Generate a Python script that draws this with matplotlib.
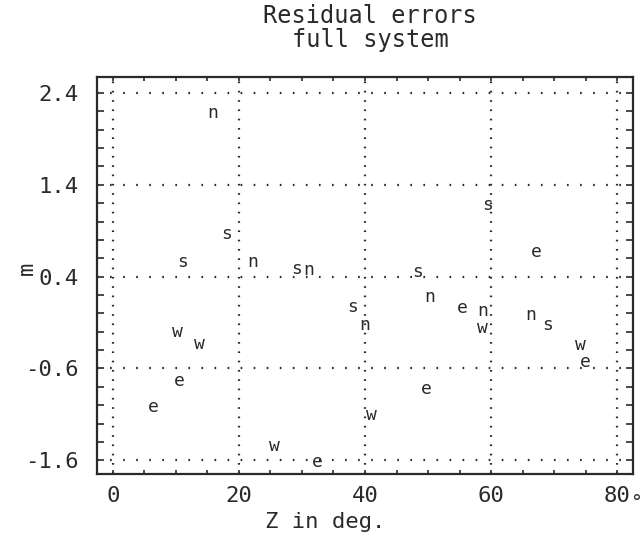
import matplotlib
matplotlib.use("Agg")
import matplotlib.pyplot as plt
from matplotlib.ticker import MultipleLocator, FixedLocator

plt.rcParams['lines.scale_dashes'] = False

# ---- data ----
n_x = [15.9, 22.2, 31.1, 40.0, 50.3, 58.6, 66.2]
n_y = [2.18, 0.56, 0.47, -0.13, 0.18, 0.03, -0.02]
s_x = [18.1, 11.0, 29.2, 38.1, 48.4, 59.5, 69.0]
s_y = [0.87, 0.56, 0.48, 0.07, 0.45, 1.18, -0.13]
e_x = [55.4, 67.1, 74.9, 10.6, 6.5, 32.4, 49.8]
e_y = [0.06, 0.67, -0.53, -0.74, -1.02, -1.62, -0.82]
w_x = [10.3, 13.8, 58.7, 74.1, 25.6, 41.1]
w_y = [-0.20, -0.33, -0.16, -0.35, -1.44, -1.11]

x_ticks = [0, 20, 40, 60, 80]
y_ticks = [-1.6, -0.6, 0.4, 1.4, 2.4]
x_ticklabels = ["0", "20", "40", "60", "80"]
y_ticklabels = ["-1.6", "-0.6", "0.4", "1.4", "2.4"]

title = "Residual errors\nfull system"
xlabel = "Z in deg."
ylabel = "m"

ink = "#2a2a2a"
mono = ["DejaVu Sans Mono"]

fig = plt.figure(figsize=(6.41, 5.41), dpi=100)
ax = fig.add_axes([97/641, 1-474/541, (633-97)/641, (474-77)/541])
ax.set_xlim(-2.5, 82.5)
ax.set_ylim(-1.75, 2.575)

for sp in ax.spines.values():
    sp.set_linewidth(1.6)
    sp.set_color(ink)

ax.xaxis.set_major_locator(FixedLocator(x_ticks))
ax.xaxis.set_minor_locator(MultipleLocator(5))
ax.yaxis.set_major_locator(FixedLocator(y_ticks))
ax.yaxis.set_minor_locator(MultipleLocator(0.2))
ax.set_xticklabels(x_ticklabels, fontfamily=mono, fontsize=16, color=ink)
ax.set_yticklabels(y_ticklabels, fontfamily=mono, fontsize=16, color=ink)
ax.tick_params(which='both', direction='in', top=True, right=True, color=ink)
ax.tick_params(axis='y', which='both', length=5, width=1.2, pad=13)
ax.tick_params(axis='x', which='both', length=3, width=1.2, pad=9)

for xv in x_ticks:
    ax.axvline(xv, color=ink, linewidth=1.6, linestyle=(0, (1.2, 5.5)), zorder=1)
for yv in y_ticks:
    ax.axhline(yv, color=ink, linewidth=1.6, linestyle=(0, (1.2, 8.2)), zorder=1)

for xs, ys, ch in [(n_x, n_y, "n"), (s_x, s_y, "s"), (e_x, e_y, "e"), (w_x, w_y, "w")]:
    for xv, yv in zip(xs, ys):
        ax.text(xv, yv, ch, fontfamily=mono, fontsize=13, color=ink,
                ha='center', va='center', zorder=3)

fig.text(370/641, 1-28/541, title, fontfamily=mono, fontsize=17, color=ink,
         ha='center', va='center', linespacing=1.05)
fig.text(325/641, 1-522/541, xlabel, fontfamily=mono, fontsize=16, color=ink,
         ha='center', va='center')
fig.text(27/641, 1-268/541, ylabel, fontfamily=mono, fontsize=16, color=ink,
         ha='center', va='center', rotation=90)
fig.text(636/641, 1-503/541, "°", fontfamily=mono, fontsize=14, color=ink,
         ha='center', va='center')

fig.savefig("out.png", dpi=100, facecolor="white")
